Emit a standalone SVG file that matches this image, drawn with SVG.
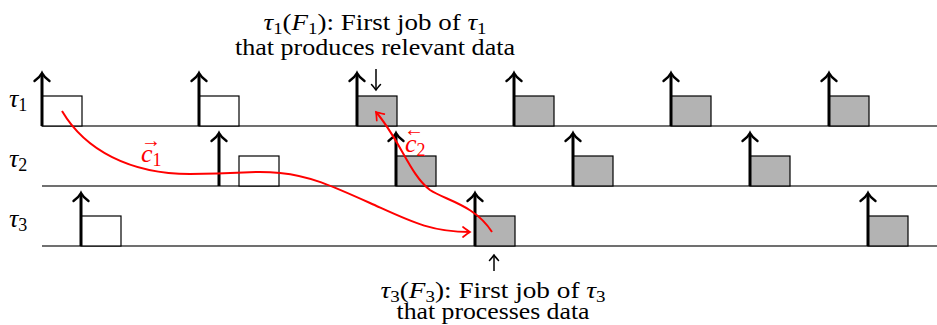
<svg xmlns="http://www.w3.org/2000/svg" width="937" height="325" viewBox="0 0 937 325">
<style>
.base{stroke:#404040;stroke-width:1.5;fill:none}
.job{stroke:#000;stroke-width:1.2;fill:#fff}
.job.g{fill:#b3b3b3}
.rel{stroke:#000;stroke-width:3;fill:none}
.relh{stroke:#000;stroke-width:2.4;fill:none;stroke-linecap:round}
.ind{stroke:#000;stroke-width:1.5;fill:none}
.chain{stroke:#ff0000;stroke-width:2;fill:none}
.t{font-family:'Liberation Serif','DejaVu Serif',serif;font-size:23px;fill:#000}
.big{font-size:26px}
.acc{font-size:20px}
.it{font-style:italic}
.red{fill:#ff0000}
</style>
<defs>
<marker id="ra" markerUnits="userSpaceOnUse" markerWidth="14" markerHeight="14" viewBox="-10 -7 14 14" refX="0" refY="0" orient="auto">
<path d="M-7,-5 Q-2,-1.2 0,0 Q-2,1.2 -7,5" fill="none" stroke="#ff0000" stroke-width="1.7" stroke-linecap="round"/>
</marker>
<marker id="ka" markerUnits="userSpaceOnUse" markerWidth="12" markerHeight="12" viewBox="-8 -6 12 12" refX="0" refY="0" orient="auto">
<path d="M-5.5,-4.5 Q-1.5,-1 0,0 Q-1.5,1 -5.5,4.5" fill="none" stroke="#000" stroke-width="1.5" stroke-linecap="round"/>
</marker>
<g id="up">
<path class="rel" d="M0,0 V-52"/>
<path class="relh" d="M-7.5,-45 Q-2,-49 0,-53 Q2,-49 7.5,-45"/>
</g>
</defs>

<g id="labels">
<text class="t big" x="9" y="107"><tspan class="it">τ</tspan><tspan font-size="18" dy="4">1</tspan></text>
<text class="t big" x="9" y="167"><tspan class="it">τ</tspan><tspan font-size="18" dy="4">2</tspan></text>
<text class="t big" x="9" y="227"><tspan class="it">τ</tspan><tspan font-size="18" dy="4">3</tspan></text>
</g>

<g id="timelines">
<line class="base" x1="42" y1="126" x2="937" y2="126"/>
<line class="base" x1="42" y1="186" x2="937" y2="186"/>
<line class="base" x1="42" y1="246" x2="937" y2="246"/>
</g>

<g id="task1">
<rect class="job" x="42" y="96" width="40" height="30"/>
<rect class="job" x="199" y="96" width="40" height="30"/>
<rect class="job g" x="357" y="96" width="40" height="30"/>
<rect class="job g" x="514" y="96" width="40" height="30"/>
<rect class="job g" x="671" y="96" width="40" height="30"/>
<rect class="job g" x="829" y="96" width="40" height="30"/>
<use href="#up" x="42" y="126"/>
<use href="#up" x="199" y="126"/>
<use href="#up" x="357" y="126"/>
<use href="#up" x="514" y="126"/>
<use href="#up" x="671" y="126"/>
<use href="#up" x="829" y="126"/>
</g>

<g id="task2">
<rect class="job" x="239" y="156" width="40" height="30"/>
<rect class="job g" x="396" y="156" width="40" height="30"/>
<rect class="job g" x="573" y="156" width="40" height="30"/>
<rect class="job g" x="750" y="156" width="40" height="30"/>
<use href="#up" x="219" y="186"/>
<use href="#up" x="396" y="186"/>
<use href="#up" x="573" y="186"/>
<use href="#up" x="750" y="186"/>
</g>

<g id="task3">
<rect class="job" x="81" y="216" width="40" height="30"/>
<rect class="job g" x="475" y="216" width="40" height="30"/>
<rect class="job g" x="868" y="216" width="40" height="30"/>
<use href="#up" x="81" y="246"/>
<use href="#up" x="475" y="246"/>
<use href="#up" x="868" y="246"/>
</g>

<g id="connectors">
<path class="chain" marker-end="url(#ra)" d="M62,111 C85,150 130,174 190,174 S250,170 280,173 S330,185 370,203 S430,232 470,232"/>
<path class="chain" marker-end="url(#ra)" d="M492,232 C475,205 445,200 430,190 C410,175 400,140 376,112"/>
<line class="ind" x1="376" y1="69" x2="376" y2="90" marker-end="url(#ka)"/>
<line class="ind" x1="494" y1="271" x2="494" y2="255" marker-end="url(#ka)"/>
</g>

<g id="chain-labels">
<text class="t big red it" x="141" y="162">c<tspan font-size="18" dy="4" font-style="normal">1</tspan></text>
<text class="t acc red" x="141" y="147">→</text>
<text class="t big red it" x="405" y="152">c<tspan font-size="18" dy="4" font-style="normal">2</tspan></text>
<text class="t acc red" x="404" y="136">←</text>
</g>

<g id="annotation-top">
<text class="t" x="375" y="30" text-anchor="middle" textLength="223" lengthAdjust="spacingAndGlyphs"><tspan class="it">τ</tspan><tspan font-size="16" dy="4">1</tspan><tspan dy="-4">(</tspan><tspan class="it">F</tspan><tspan font-size="16" dy="4">1</tspan><tspan dy="-4">): First job of </tspan><tspan class="it">τ</tspan><tspan font-size="16" dy="4">1</tspan></text>
<text class="t" x="375" y="55" text-anchor="middle" textLength="280" lengthAdjust="spacingAndGlyphs">that produces relevant data</text>
</g>

<g id="annotation-bottom">
<text class="t" x="493" y="298" text-anchor="middle" textLength="225" lengthAdjust="spacingAndGlyphs"><tspan class="it">τ</tspan><tspan font-size="16" dy="4">3</tspan><tspan dy="-4">(</tspan><tspan class="it">F</tspan><tspan font-size="16" dy="4">3</tspan><tspan dy="-4">): First job of </tspan><tspan class="it">τ</tspan><tspan font-size="16" dy="4">3</tspan></text>
<text class="t" x="493" y="319" text-anchor="middle" textLength="193" lengthAdjust="spacingAndGlyphs">that processes data</text>
</g>
</svg>
